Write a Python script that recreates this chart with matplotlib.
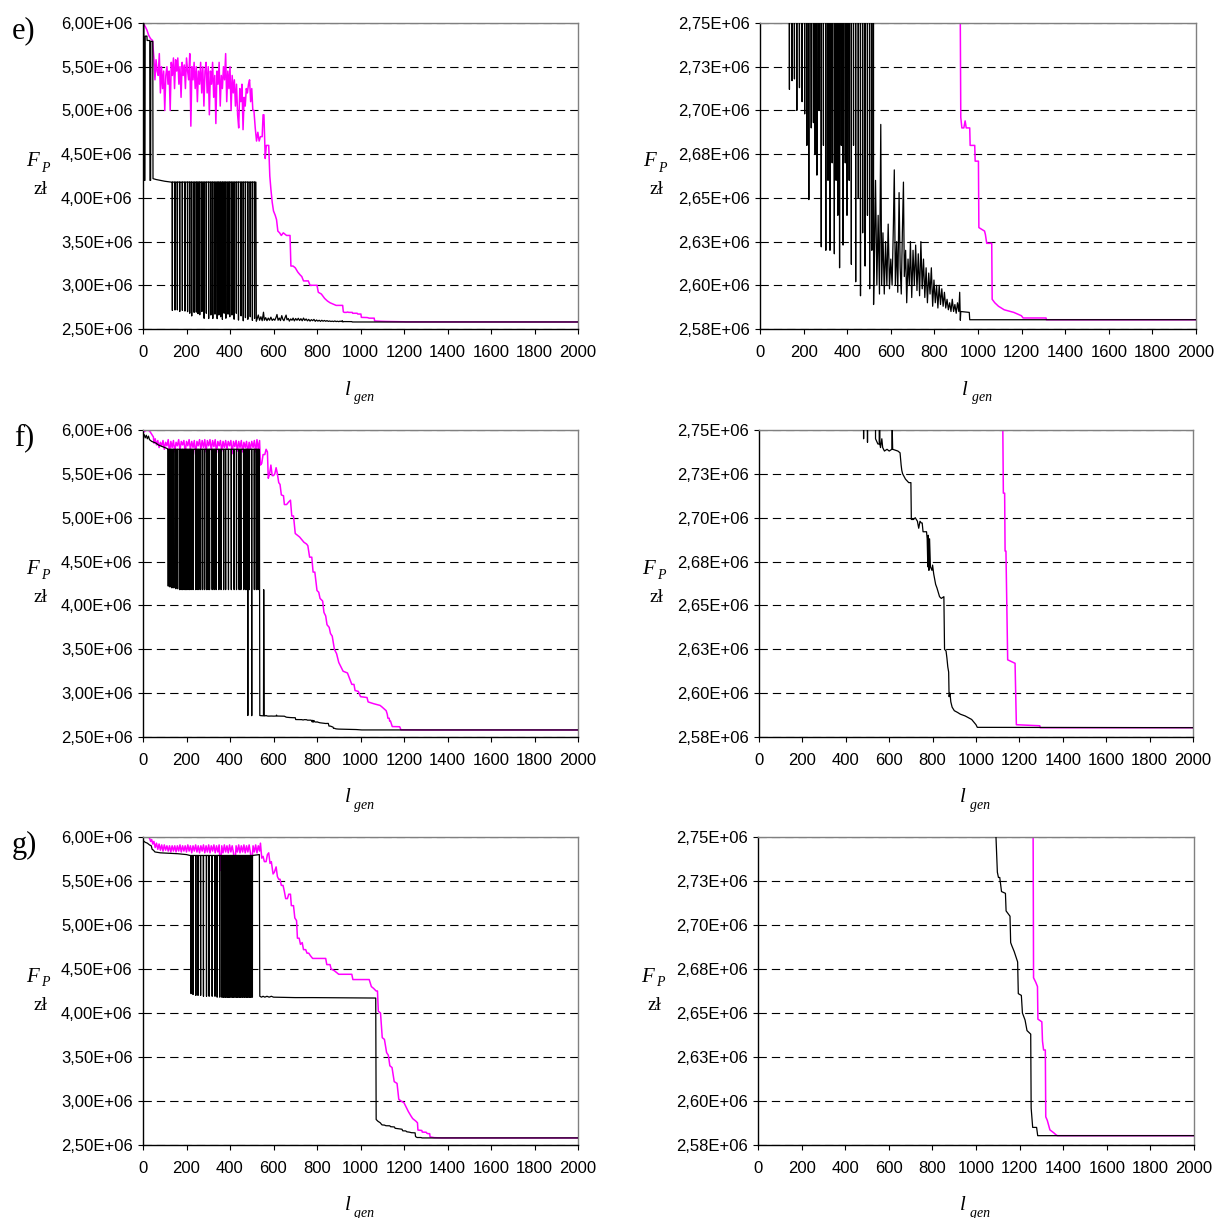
import matplotlib
matplotlib.use("Agg")
import matplotlib.pyplot as plt

plt.rcParams['font.family'] = ['Liberation Sans', 'DejaVu Sans']
plt.rcParams['lines.scale_dashes'] = False

# ---- axis ticks / labels ----
gen_ticks = list(range(0, 2001, 200))
left_ticks = [2.50, 3.00, 3.50, 4.00, 4.50, 5.00, 5.50, 6.00]
left_labels = ["2,50E+06", "3,00E+06", "3,50E+06", "4,00E+06",
               "4,50E+06", "5,00E+06", "5,50E+06", "6,00E+06"]
right_ticks = [2.575, 2.600, 2.625, 2.650, 2.675, 2.700, 2.725, 2.750]
right_labels = ["2,58E+06", "2,60E+06", "2,63E+06", "2,65E+06",
                "2,68E+06", "2,70E+06", "2,73E+06", "2,75E+06"]
panel_names = ["e)", "f)", "g)"]

# ---- panel e (values in mln zl) ----
e_black_start_gen = [0, 4, 5, 9, 10, 18, 19, 31, 32, 35, 36, 45, 46, 60, 100, 130]
e_black_start_val = [6.00, 6.00, 4.20, 4.20, 5.85, 5.85, 5.80, 5.80, 4.20, 4.20,
                     5.79, 5.79, 4.22, 4.21, 4.19, 4.18]
e_spike_top = 4.18
e_spike_gen = [134, 146, 157, 168, 180, 192, 204, 214, 223, 234,
               244, 252, 260, 270, 280, 290, 301, 311, 320, 330,
               340, 348, 356, 364, 372, 380, 390, 398, 408, 418,
               428, 438, 450, 460, 470, 481, 492, 502, 512]
e_spike_low = [2.712, 2.717, 2.718, 2.700, 2.713, 2.705, 2.698, 2.680, 2.649, 2.690,
               2.693, 2.675, 2.663, 2.700, 2.622, 2.680, 2.620, 2.660, 2.620, 2.670,
               2.618, 2.660, 2.640, 2.610, 2.680, 2.623, 2.670, 2.640, 2.660, 2.612,
               2.680, 2.602, 2.650, 2.594, 2.630, 2.611, 2.640, 2.598, 2.620]
e_black_tail_gen = [519, 521, 524, 530, 536, 542, 548, 554, 558, 564, 570, 576, 582,
                    588, 594, 600, 606, 612, 616, 621, 627, 632, 638, 643, 648, 653,
                    658, 662, 668, 673, 679, 685, 690, 696, 702, 708, 714, 720, 726,
                    732, 738, 744, 750, 756, 762, 768, 774, 780, 786, 792, 798, 804,
                    810, 816, 822, 828, 834, 840, 846, 852, 858, 864, 870, 876, 882,
                    888, 894, 900, 906, 912, 916, 919, 921, 960, 962, 2000]
e_black_tail_val = [4.18, 2.589, 2.610, 2.660, 2.600, 2.640, 2.595, 2.692, 2.600,
                    2.630, 2.595, 2.625, 2.600, 2.635, 2.598, 2.615, 2.600, 2.635,
                    2.666, 2.600, 2.625, 2.596, 2.653, 2.610, 2.595, 2.630, 2.659,
                    2.605, 2.620, 2.590, 2.615, 2.600, 2.625, 2.593, 2.620, 2.600,
                    2.623, 2.597, 2.618, 2.594, 2.625, 2.598, 2.615, 2.593, 2.610,
                    2.590, 2.607, 2.595, 2.610, 2.588, 2.603, 2.590, 2.600, 2.587,
                    2.600, 2.589, 2.598, 2.588, 2.596, 2.587, 2.592, 2.586, 2.590,
                    2.585, 2.592, 2.585, 2.589, 2.584, 2.590, 2.585, 2.596, 2.580,
                    2.585, 2.5845, 2.5803, 2.5803]
e_mag_gen = [0, 10, 18, 26, 35, 44, 50, 55, 60, 65, 70, 75, 80, 85, 90, 95, 100, 105,
             110, 115, 120, 125, 130, 135, 140, 145, 150, 155, 160, 165, 170, 175,
             180, 185, 190, 195, 200, 205, 210, 215, 220, 225, 230, 235, 240, 245,
             250, 255, 260, 265, 270, 275, 280, 285, 290, 295, 300, 305, 310, 315,
             320, 325, 330, 335, 340, 345, 350, 355, 360, 365, 370, 375, 380, 385,
             390, 395, 400, 405, 410, 415, 420, 425, 430, 435, 440, 445, 450, 455,
             460, 465, 470, 475, 480, 485, 490, 495, 500, 505, 510, 516, 522, 528,
             534, 540, 548, 552, 556, 562, 567, 572, 578, 583, 588, 594, 600, 608,
             614, 620, 628, 636, 645, 660, 676, 680, 690, 700, 712, 722, 730, 738,
             760, 768, 800, 806, 820, 835, 848, 860, 888, 918, 921, 926, 935, 941,
             946, 962, 964, 985, 987, 1002, 1004, 1030, 1034, 1040, 1063, 1065,
             1077, 1094, 1120, 1164, 1199, 1207, 1312, 1314, 2000]
e_mag_val = [6.00, 5.96, 5.92, 5.86, 5.82, 5.80, 5.60, 5.35, 5.58, 5.45, 5.40, 5.65,
             5.20, 5.50, 5.25, 5.45, 5.00, 5.40, 5.50, 5.30, 5.45, 5.00, 5.55, 5.40,
             5.60, 5.25, 5.58, 5.45, 5.60, 5.30, 5.50, 5.15, 5.55, 5.40, 5.52, 5.25,
             5.60, 5.45, 5.35, 5.65, 4.82, 5.50, 5.35, 5.55, 5.25, 5.50, 5.10, 5.45,
             5.30, 5.55, 5.20, 5.50, 5.05, 5.45, 5.55, 5.20, 5.50, 4.95, 5.45, 5.30,
             5.55, 5.15, 5.40, 4.85, 5.45, 5.30, 5.55, 5.05, 5.40, 5.25, 5.50, 5.35,
             5.65, 5.10, 5.45, 5.25, 5.50, 5.00, 5.40, 5.20, 5.35, 5.05, 5.30, 4.95,
             4.80, 5.25, 5.10, 5.30, 4.78, 5.15, 5.05, 5.25, 5.20, 5.30, 5.35, 5.10,
             5.25, 5.00, 5.00, 4.80, 4.65, 4.75, 4.65, 4.70, 4.70, 4.95, 4.95, 4.45,
             4.60, 4.60, 4.60, 4.25, 4.10, 3.95, 3.85, 3.80, 3.75, 3.62, 3.60, 3.57,
             3.60, 3.57, 3.57, 3.22, 3.22, 3.20, 3.15, 3.12, 3.10, 3.05, 3.05, 3.00,
             3.00, 2.92, 2.90, 2.85, 2.82, 2.80, 2.77, 2.77, 2.696, 2.690, 2.690,
             2.694, 2.690, 2.690, 2.680, 2.680, 2.671, 2.671, 2.633, 2.631, 2.629,
             2.624, 2.624, 2.592, 2.590, 2.588, 2.586, 2.5845, 2.5826, 2.5813,
             2.5813, 2.5803, 2.5803]

# ---- panel f ----
f_black_start_gen = [0, 5, 10, 15, 20, 25, 30, 40, 50, 60, 70, 80, 90, 100, 110]
f_black_start_val = [5.93, 5.95, 5.91, 5.94, 5.90, 5.93, 5.89, 5.87, 5.86, 5.85,
                     5.83, 5.82, 5.81, 5.80, 5.79]
f_spike_top = 5.78
f_spike_gen = [115, 123, 132, 141, 150, 158, 167, 174, 181, 188,
               194, 200, 206, 213, 220, 229, 241, 248, 256, 264,
               273, 282, 291, 298, 305, 317, 326, 335, 348, 358,
               370, 379, 392, 405, 418, 429, 441, 449, 462, 470,
               476, 481, 488, 499, 511, 520, 528]
f_spike_low = [4.22, 4.21, 4.20, 4.20, 4.19, 4.19, 4.18, 4.18, 4.18, 4.18,
               4.18, 4.18, 4.18, 4.18, 4.18, 4.18, 4.18, 4.18, 4.18, 4.18,
               4.18, 4.18, 4.18, 4.18, 4.18, 4.18, 4.18, 4.18, 4.18, 4.18,
               4.18, 4.18, 4.18, 4.18, 4.18, 4.18, 4.18, 4.18, 4.18, 4.18,
               4.18, 2.745, 4.18, 2.743, 4.18, 4.18, 4.18]
f_black_tail_gen = [535, 537, 548, 554, 555, 557, 560, 566, 570, 578, 590, 600, 612,
                    614, 616, 640, 650, 655, 658, 662, 675, 690, 700, 702, 712, 720,
                    730, 736, 742, 748, 752, 756, 772, 775, 778, 780, 783, 786, 790,
                    797, 800, 805, 814, 820, 832, 840, 852, 855, 862, 866, 870, 874,
                    876, 880, 884, 890, 900, 915, 928, 950, 980, 1000, 1006, 2000]
f_black_tail_val = [5.78, 2.745, 2.742, 2.742, 4.18, 2.742, 2.740, 2.745, 2.740,
                    2.738, 2.739, 2.738, 2.739, 2.750, 2.739, 2.738, 2.737, 2.730,
                    2.727, 2.725, 2.722, 2.720, 2.720, 2.699, 2.699, 2.700, 2.698,
                    2.694, 2.698, 2.697, 2.697, 2.692, 2.692, 2.688, 2.672, 2.690,
                    2.670, 2.688, 2.672, 2.670, 2.673, 2.668, 2.662, 2.660, 2.655,
                    2.654, 2.655, 2.625, 2.624, 2.620, 2.615, 2.612, 2.598, 2.600,
                    2.595, 2.592, 2.590, 2.589, 2.588, 2.587, 2.585, 2.582, 2.5805,
                    2.5803]
f_mag_gen = [0, 10, 20, 30, 40, 48, 50, 56, 62, 68, 74, 80, 86, 92, 98, 104, 110, 116,
             122, 128, 134, 140, 146, 152, 158, 164, 170, 176, 182, 188, 194, 200,
             206, 212, 218, 224, 230, 236, 242, 248, 254, 260, 266, 272, 278, 284,
             290, 296, 302, 308, 314, 320, 326, 332, 338, 344, 350, 356, 362, 368,
             374, 380, 386, 392, 398, 404, 410, 416, 422, 428, 434, 440, 446, 452,
             458, 464, 470, 476, 482, 488, 494, 500, 506, 512, 518, 524, 530, 536,
             540, 546, 552, 560, 566, 572, 576, 582, 588, 594, 600, 606, 612, 618,
             624, 630, 636, 646, 650, 660, 670, 678, 684, 692, 700, 710, 720, 740,
             752, 758, 766, 776, 782, 790, 800, 808, 814, 826, 832, 840, 846, 856,
             862, 870, 880, 890, 900, 910, 920, 940, 960, 970, 975, 990, 1000, 1030,
             1035, 1060, 1090, 1100, 1118, 1123, 1126, 1132, 1134, 1138, 1146, 1180,
             1186, 1294, 1296, 2000]
f_mag_val = [5.97, 5.99, 6.00, 5.99, 5.95, 5.92, 5.85, 5.90, 5.83, 5.88, 5.80, 5.86,
             5.82, 5.88, 5.78, 5.86, 5.82, 5.89, 5.74, 5.87, 5.80, 5.88, 5.75, 5.86,
             5.82, 5.89, 5.77, 5.87, 5.83, 5.88, 5.74, 5.87, 5.82, 5.89, 5.78, 5.87,
             5.80, 5.88, 5.72, 5.87, 5.82, 5.89, 5.78, 5.88, 5.80, 5.89, 5.75, 5.88,
             5.82, 5.89, 5.77, 5.88, 5.81, 5.89, 5.74, 5.87, 5.82, 5.88, 5.76, 5.87,
             5.80, 5.88, 5.78, 5.87, 5.82, 5.88, 5.73, 5.87, 5.81, 5.88, 5.76, 5.87,
             5.80, 5.88, 5.75, 5.86, 5.80, 5.87, 5.74, 5.86, 5.78, 5.87, 5.80, 5.88,
             5.75, 5.89, 5.78, 5.88, 5.60, 5.62, 5.72, 5.72, 5.78, 5.75, 5.45, 5.50,
             5.60, 5.48, 5.48, 5.50, 5.57, 5.50, 5.40, 5.38, 5.26, 5.25, 5.15, 5.15,
             5.18, 5.20, 5.02, 5.02, 4.82, 4.80, 4.78, 4.72, 4.70, 4.68, 4.55, 4.55,
             4.38, 4.38, 4.17, 4.15, 4.08, 4.05, 3.92, 3.88, 3.78, 3.75, 3.68, 3.65,
             3.50, 3.45, 3.35, 3.30, 3.25, 3.23, 3.10, 3.10, 3.03, 3.02, 2.96, 2.95,
             2.90, 2.88, 2.86, 2.84, 2.80, 2.76, 2.714, 2.714, 2.681, 2.681, 2.619,
             2.617, 2.582, 2.5814, 2.5803, 2.5803]

# ---- panel g ----
g_black_start_gen = [0, 10, 20, 30, 38, 42, 48, 55, 80, 120, 160, 200, 216]
g_black_start_val = [5.96, 5.94, 5.93, 5.91, 5.90, 5.86, 5.85, 5.83, 5.82, 5.815,
                     5.81, 5.80, 5.79]
g_spike_top = 5.79
g_spike_gen = [220, 229, 242, 252, 264, 277, 291, 303, 317, 330,
               340, 352, 361, 366, 370, 375, 379, 384, 388, 392,
               396, 400, 405, 410, 414, 418, 423, 428, 432, 436,
               441, 445, 449, 454, 458, 463, 467, 472, 476, 480,
               485, 489, 493, 497, 502]
g_spike_low = [4.22, 4.21, 4.20, 4.20, 4.20, 4.19, 4.19, 4.19, 4.19, 4.19,
               4.18, 4.18, 4.18, 4.18, 4.18, 4.18, 4.18, 4.18, 4.18, 4.18,
               4.18, 4.18, 4.18, 4.18, 4.18, 4.18, 4.18, 4.18, 4.18, 4.18,
               4.18, 4.18, 4.18, 4.18, 4.18, 4.18, 4.18, 4.18, 4.18, 4.18,
               4.18, 4.18, 4.18, 4.18, 4.18]
g_black_tail_gen = [535, 537, 545, 552, 560, 570, 580, 590, 600, 700, 780, 1070,
                    1072, 1080, 1091, 1098, 1103, 1109, 1117, 1135, 1138, 1156, 1159,
                    1165, 1175, 1191, 1194, 1208, 1213, 1225, 1234, 1251, 1253, 1260,
                    1278, 1283, 2000]
g_black_tail_val = [5.80, 4.19, 4.18, 4.19, 4.18, 4.19, 4.18, 4.19, 4.18, 4.175,
                    4.175, 4.17, 2.79, 2.77, 2.752, 2.730, 2.727, 2.727, 2.719, 2.718,
                    2.708, 2.705, 2.690, 2.688, 2.685, 2.679, 2.661, 2.660, 2.650,
                    2.646, 2.640, 2.638, 2.596, 2.585, 2.585, 2.5803, 2.5803]
g_mag_gen = [0, 20, 30, 35, 40, 45, 50, 56, 62, 68, 74, 80, 86, 92, 98, 104, 110, 116,
             122, 128, 134, 140, 146, 152, 158, 164, 170, 176, 182, 188, 194, 200,
             206, 212, 218, 224, 230, 236, 242, 248, 254, 260, 266, 272, 278, 284,
             290, 296, 302, 308, 314, 320, 326, 332, 338, 344, 350, 356, 362, 368,
             374, 380, 386, 392, 398, 404, 410, 416, 422, 428, 434, 440, 446, 452,
             458, 464, 470, 476, 482, 488, 494, 500, 506, 512, 518, 524, 530, 536,
             540, 546, 552, 558, 566, 572, 578, 584, 590, 598, 604, 612, 618, 624,
             630, 636, 644, 650, 656, 664, 670, 678, 682, 692, 698, 706, 710, 718,
             724, 732, 738, 748, 754, 762, 770, 780, 800, 840, 845, 860, 865, 880,
             890, 900, 960, 965, 1040, 1050, 1060, 1072, 1078, 1082, 1092, 1100,
             1110, 1120, 1128, 1135, 1145, 1155, 1168, 1176, 1186, 1200, 1210, 1220,
             1232, 1240, 1255, 1262, 1264, 1274, 1282, 1284, 1302, 1305, 1310, 1318,
             1320, 1327, 1339, 1356, 1365, 1373, 2000]
g_mag_val = [6.00, 6.00, 5.99, 5.95, 5.97, 5.92, 5.95, 5.88, 5.93, 5.86, 5.92, 5.85,
             5.91, 5.84, 5.91, 5.85, 5.90, 5.84, 5.90, 5.83, 5.90, 5.84, 5.90, 5.83,
             5.90, 5.84, 5.91, 5.83, 5.90, 5.84, 5.90, 5.83, 5.91, 5.84, 5.90, 5.82,
             5.90, 5.84, 5.91, 5.83, 5.90, 5.82, 5.90, 5.84, 5.91, 5.82, 5.90, 5.83,
             5.91, 5.82, 5.90, 5.84, 5.91, 5.82, 5.90, 5.83, 5.91, 5.62, 5.90, 5.82,
             5.91, 5.83, 5.90, 5.82, 5.91, 5.83, 5.90, 5.82, 5.65, 5.90, 5.83, 5.91,
             5.82, 5.90, 5.83, 5.91, 5.82, 5.90, 5.83, 5.91, 5.82, 5.68, 5.90, 5.83,
             5.91, 5.82, 5.90, 5.84, 5.93, 5.76, 5.78, 5.72, 5.72, 5.80, 5.82, 5.70,
             5.72, 5.58, 5.60, 5.66, 5.55, 5.52, 5.52, 5.45, 5.45, 5.38, 5.30, 5.30,
             5.35, 5.35, 5.22, 5.22, 5.08, 5.05, 4.85, 4.85, 4.78, 4.80, 4.72, 4.72,
             4.68, 4.68, 4.65, 4.62, 4.62, 4.62, 4.55, 4.55, 4.50, 4.48, 4.46, 4.44,
             4.44, 4.38, 4.38, 4.30, 4.28, 4.25, 4.25, 4.02, 4.00, 3.72, 3.70, 3.55,
             3.52, 3.40, 3.38, 3.22, 3.20, 3.02, 3.00, 2.98, 2.93, 2.88, 2.83, 2.80,
             2.77, 2.752, 2.670, 2.6675, 2.665, 2.6465, 2.645, 2.634, 2.629, 2.629,
             2.591, 2.589, 2.5836, 2.582, 2.581, 2.5803, 2.5803]


def spikes(gens, lows, top, w=1):
    # each spike: drop to its low value and come back to the top level
    xs, ys = [], []
    for g, lo in zip(gens, lows):
        xs += [g, g + 0.5, g + w, g + w + 0.5]
        ys += [top, lo, lo, top]
    return xs, ys


def black_series(start_g, start_v, sp_g, sp_l, top, tail_g, tail_v):
    sx, sy = spikes(sp_g, sp_l, top)
    xs = start_g + sx + tail_g
    ys = start_v + sy + tail_v
    return xs, [v * 1e6 for v in ys]


rows = [
    (black_series(e_black_start_gen, e_black_start_val, e_spike_gen, e_spike_low,
                  e_spike_top, e_black_tail_gen, e_black_tail_val),
     (e_mag_gen, [v * 1e6 for v in e_mag_val])),
    (black_series(f_black_start_gen, f_black_start_val, f_spike_gen, f_spike_low,
                  f_spike_top, f_black_tail_gen, f_black_tail_val),
     (f_mag_gen, [v * 1e6 for v in f_mag_val])),
    (black_series(g_black_start_gen, g_black_start_val, g_spike_gen, g_spike_low,
                  g_spike_top, g_black_tail_gen, g_black_tail_val),
     (g_mag_gen, [v * 1e6 for v in g_mag_val])),
]

W, H = 1214, 1218
fig = plt.figure(figsize=(W / 100, H / 100), dpi=100)

# axes boxes in pixels: (left, top, right, bottom)
boxes = [
    [(143, 23, 578, 329), (760, 23, 1196, 329)],
    [(143, 430, 578, 737), (759, 430, 1193, 737)],
    [(143, 837, 578, 1145), (758, 837, 1194, 1145)],
]

serif = 'Liberation Serif'

for r, ((bx, by), (mx, my)) in enumerate(rows):
    for c in range(2):
        l, t, rr, b = boxes[r][c]
        ax = fig.add_axes([l / W, 1 - b / H, (rr - l) / W, (b - t) / H])
        ax.plot(mx, my, color='#FF00FF', lw=1.1, zorder=2)
        ax.plot(bx, by, color='black', lw=0.9, zorder=3)
        ax.set_xlim(0, 2000)
        ax.set_xticks(gen_ticks)
        if c == 0:
            ax.set_ylim(2.5e6, 6.0e6)
            ax.set_yticks([v * 1e6 for v in left_ticks])
            ax.set_yticklabels(left_labels)
        else:
            ax.set_ylim(2.575e6, 2.75e6)
            ax.set_yticks([v * 1e6 for v in right_ticks])
            ax.set_yticklabels(right_labels)
        ax.yaxis.grid(True, color='black', lw=0.8, linestyle=(0, (6, 3.6)))
        ax.set_axisbelow(True)
        for s in ['top', 'right']:
            ax.spines[s].set_color('#808080')
            ax.spines[s].set_linewidth(1.0)
        for s in ['left', 'bottom']:
            ax.spines[s].set_color('black')
            ax.spines[s].set_linewidth(1.0)
        ax.tick_params(direction='out', length=3.5, width=0.8, labelsize=12,
                       pad=4, colors='black')
        ax.tick_params(axis='x', pad=8)

        # y label F_P / zl
        ax.annotate('F', xy=(0, 0.5), xycoords='axes fraction', xytext=(-111, 14),
                    textcoords='offset pixels', ha='center', va='center',
                    fontsize=15, family=serif, style='italic')
        ax.annotate('P', xy=(0, 0.5), xycoords='axes fraction', xytext=(-98, 8),
                    textcoords='offset pixels', ha='center', va='center',
                    fontsize=10, family=serif, style='italic')
        ax.annotate('zł', xy=(0, 0.5), xycoords='axes fraction', xytext=(-103, -14),
                    textcoords='offset pixels', ha='center', va='center',
                    fontsize=14, family=serif)
        # x label l_gen
        ax.annotate('l', xy=(0.5, 0), xycoords='axes fraction', xytext=(-13, -61),
                    textcoords='offset pixels', ha='center', va='center',
                    fontsize=15, family=serif, style='italic')
        ax.annotate('gen', xy=(0.5, 0), xycoords='axes fraction', xytext=(4, -68),
                    textcoords='offset pixels', ha='center', va='center',
                    fontsize=10, family=serif, style='italic')
        if c == 0:
            ax.annotate(panel_names[r], xy=(0, 1), xycoords='axes fraction',
                        xytext=(-119, -8), textcoords='offset pixels',
                        ha='center', va='center', fontsize=22, family=serif)

fig.savefig('out.png', dpi=100)
